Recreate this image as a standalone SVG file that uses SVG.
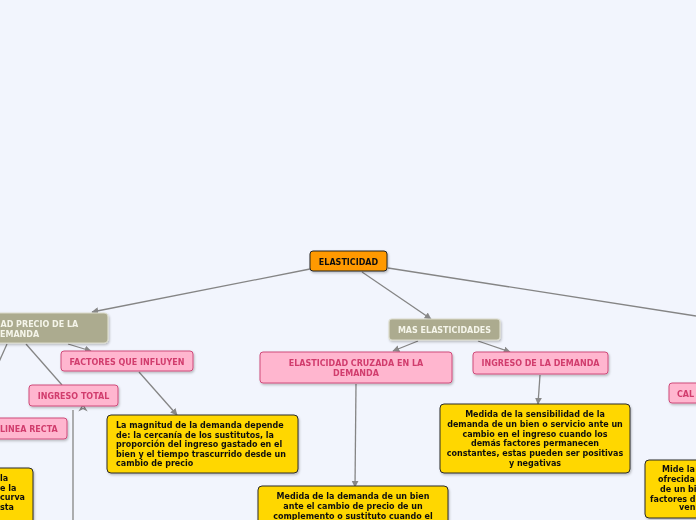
<svg xmlns="http://www.w3.org/2000/svg" width="696" height="520" viewBox="0 0 696 520">
<defs>
<marker id="arr" viewBox="0 0 10 10" refX="9" refY="5" markerWidth="7" markerHeight="7" markerUnits="userSpaceOnUse" orient="auto">
<path d="M0,0 L10,5 L0,10 z" fill="#888"/>
</marker>
<filter id="sh" x="-10%" y="-20%" width="130%" height="160%">
<feDropShadow dx="1" dy="1.5" stdDeviation="1" flood-color="#000" flood-opacity="0.25"/>
</filter>
<style>
.t{font-family:"DejaVu Sans",Verdana,sans-serif;font-weight:bold;font-size:8px}
.main rect{fill:#ff9900;stroke:#222;stroke-width:1}
.main text{fill:#111}
.gray rect{fill:#acab8f;stroke:#dcdccc;stroke-width:1.2}
.gray text{fill:#f5f5ea}
.pink rect{fill:#ffb6cf;stroke:#cf4a7a;stroke-width:1}
.pink text{fill:#d13c6d}
.yel rect{fill:#ffd700;stroke:#2a2a2a;stroke-width:1}
.yel text{fill:#111}
.c path,.c line{stroke:#858585;stroke-width:1.3;fill:none}
</style>
</defs>
<rect width="696" height="520" fill="#f2f5fd"/>

<g class="c" id="connectors">
<line x1="310" y1="269" x2="92" y2="312" marker-end="url(#arr)"/>
<line x1="362" y1="272" x2="431" y2="319" marker-end="url(#arr)"/>
<line x1="388" y1="268" x2="696" y2="316"/>
<line x1="68" y1="344" x2="91" y2="351" marker-end="url(#arr)"/>
<line x1="26" y1="344" x2="62" y2="385"/>
<line x1="7" y1="344" x2="-2" y2="364"/>
<line x1="73" y1="410" x2="73" y2="520"/>
<line x1="139" y1="372" x2="177" y2="415" marker-end="url(#arr)"/>
<line x1="418" y1="341" x2="393" y2="351" marker-end="url(#arr)"/>
<line x1="478" y1="341" x2="510" y2="352" marker-end="url(#arr)"/>
<line x1="356" y1="384" x2="355" y2="487" marker-end="url(#arr)"/>
<line x1="540" y1="375" x2="538" y2="404" marker-end="url(#arr)"/>
<path d="M83,405 L80,410 L83,408.5 L86,410 z" fill="#888" stroke="#888" stroke-width="1"/>
</g>

<g id="n-elasticidad" class="main t" filter="url(#sh)">
<rect x="310" y="251" width="77" height="20" rx="3"/>
<text x="348.5" y="264.5" text-anchor="middle">ELASTICIDAD</text>
</g>

<g id="n-precio" class="gray t" filter="url(#sh)">
<rect x="-82" y="313" width="190" height="30" rx="4"/>
<text x="0.5" y="327">AD PRECIO DE LA</text>
<text x="0" y="336.5">EMANDA</text>
</g>

<g id="n-factores" class="pink t" filter="url(#sh)">
<rect x="61" y="351" width="132" height="20" rx="3"/>
<text x="127" y="364.5" text-anchor="middle">FACTORES QUE INFLUYEN</text>
</g>

<g id="n-ingreso-total" class="pink t" filter="url(#sh)">
<rect x="29" y="385" width="89" height="21" rx="3"/>
<text x="73.5" y="399" text-anchor="middle">INGRESO TOTAL</text>
</g>

<g id="n-linea-recta" class="pink t" filter="url(#sh)">
<rect x="-10" y="418" width="77" height="21" rx="3"/>
<text x="0" y="432">LINEA RECTA</text>
</g>

<g id="n-left-yellow" class="yel t" filter="url(#sh)">
<rect x="-100" y="468" width="133" height="60" rx="4"/>
<text x="0" y="481">la</text>
<text x="0" y="490.5">e la</text>
<text x="0" y="500">curva</text>
<text x="0" y="509.5">sta</text>
</g>

<g id="n-magnitud" class="yel t" filter="url(#sh)">
<rect x="107" y="415" width="191" height="58" rx="4"/>
<text x="116" y="428">La magnitud de la demanda depende</text>
<text x="116" y="437.5">de: la cercanía de los sustitutos, la</text>
<text x="116" y="447">proporción del ingreso gastado en el</text>
<text x="116" y="456.5">bien y el tiempo trascurrido desde un</text>
<text x="116" y="466">cambio de precio</text>
</g>

<g id="n-mas" class="gray t" filter="url(#sh)">
<rect x="389" y="319" width="111" height="21" rx="3"/>
<text x="444.5" y="333" text-anchor="middle">MAS ELASTICIDADES</text>
</g>

<g id="n-cruzada" class="pink t" filter="url(#sh)">
<rect x="260" y="352" width="192" height="31" rx="3"/>
<text x="356" y="366" text-anchor="middle">ELASTICIDAD CRUZADA EN LA</text>
<text x="356" y="375.5" text-anchor="middle">DEMANDA</text>
</g>

<g id="n-ingreso-demanda" class="pink t" filter="url(#sh)">
<rect x="473" y="352" width="135" height="22" rx="3"/>
<text x="540.5" y="366" text-anchor="middle">INGRESO DE LA DEMANDA</text>
</g>

<g id="n-sensibilidad" class="yel t" filter="url(#sh)">
<rect x="440" y="404" width="190" height="69" rx="4"/>
<text x="535" y="417" text-anchor="middle">Medida de la sensibilidad de la</text>
<text x="535" y="427" text-anchor="middle">demanda de un bien o servicio ante un</text>
<text x="535" y="436.5" text-anchor="middle">cambio en el ingreso cuando los</text>
<text x="535" y="446" text-anchor="middle">demás factores permanecen</text>
<text x="535" y="456" text-anchor="middle">constantes, estas pueden ser positivas</text>
<text x="535" y="466" text-anchor="middle">y negativas</text>
</g>

<g id="n-cruzada-text" class="yel t" filter="url(#sh)">
<rect x="258" y="486" width="190" height="50" rx="4"/>
<text x="353" y="499" text-anchor="middle">Medida de la demanda de un  bien</text>
<text x="353" y="509" text-anchor="middle">ante el cambio de precio de un</text>
<text x="353" y="518.5" text-anchor="middle">complemento o sustituto cuando el</text>
</g>

<g id="n-cal" class="pink t" filter="url(#sh)">
<rect x="669" y="383" width="60" height="20" rx="3"/>
<text x="677" y="396.5">CAL</text>
</g>

<g id="n-right-yellow" class="yel t" filter="url(#sh)">
<rect x="645" y="460" width="80" height="58" rx="4"/>
<text x="662" y="472">Mide la</text>
<text x="658" y="482">ofrecida</text>
<text x="660" y="491.5">de un bi</text>
<text x="650" y="501.5">factores d</text>
<text x="679" y="510">ven</text>
</g>
</svg>
